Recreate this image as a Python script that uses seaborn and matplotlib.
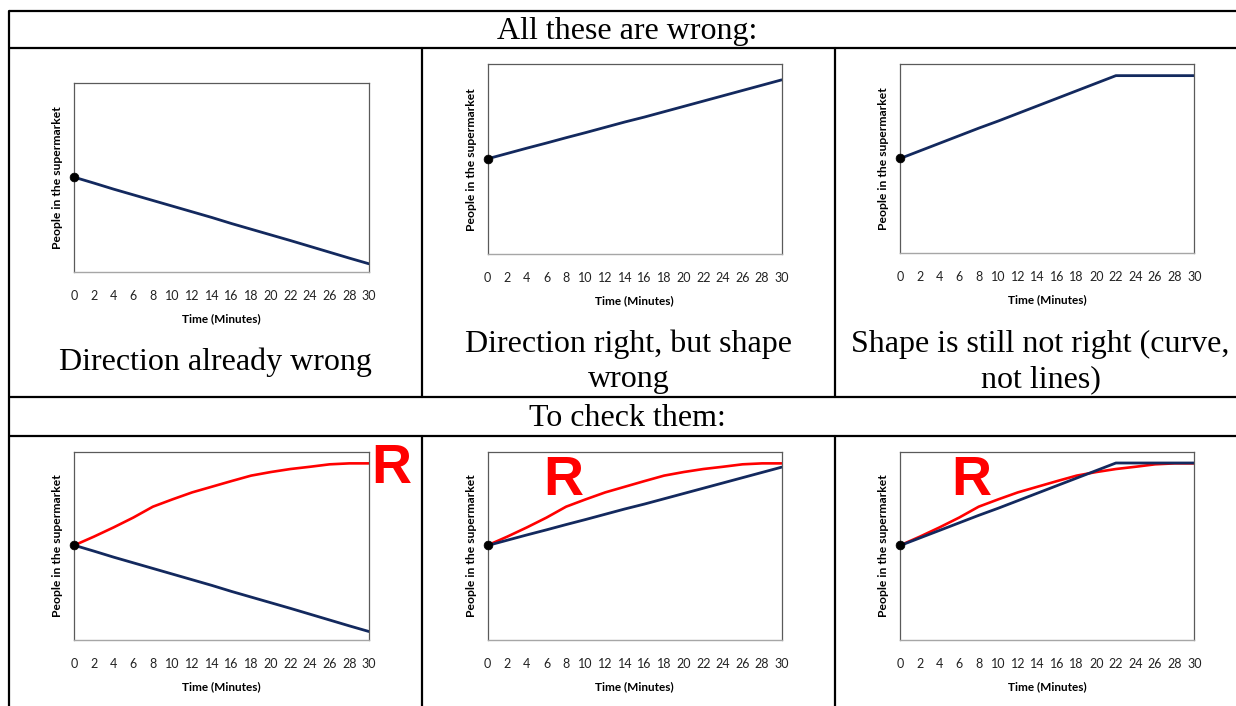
import matplotlib
matplotlib.use("Agg")
import matplotlib.pyplot as plt
import seaborn as sns
import pandas as pd

# data (minutes 0..30, every 2 minutes)
minutes = list(range(0, 31, 2))
falling = [50.3, 47.2, 44.0, 41.0, 38.0, 35.0, 32.0, 29.0, 25.8, 22.8, 19.8, 16.8, 13.7, 10.6, 7.5, 4.5]
rising = [50.2, 53.0, 55.8, 58.5, 61.3, 64.0, 66.8, 69.6, 72.2, 75.0, 77.8, 80.6, 83.4, 86.2, 89.0, 91.8]
plateau = [50.2, 54.2, 58.2, 62.2, 66.2, 70.0, 74.0, 78.0, 82.0, 86.0, 90.0, 94.0, 94.0, 94.0, 94.0, 94.0]
correct = [50.3, 54.9, 59.8, 65.0, 70.8, 74.7, 78.4, 81.4, 84.4, 87.3, 89.2, 90.8, 92.0, 93.3, 93.8, 93.8]
start_value = 50.2

header_top = "All these are wrong:"
header_bottom = "To check them:"
captions = ["Direction already wrong", "Direction right, but shape\nwrong",
            "Shape is still not right (curve,\nnot lines)"]
x_label = "Time (Minutes)"
y_label = "People in the supermarket"

df = pd.DataFrame({"minute": minutes, "falling": falling, "rising": rising,
                   "plateau": plateau, "correct": correct})

sns.set_style("white")
plt.rcParams["font.family"] = ["Lato", "DejaVu Sans"]

W, H = 1236, 706
fig = plt.figure(figsize=(W / 100, H / 100), dpi=100)

# table grid + texts drawn on a full-figure axes in pixel coords (on top)
bg = fig.add_axes([0, 0, 1, 1])
bg.set_xlim(0, W)
bg.set_ylim(H, 0)
bg.axis("off")
bg.set_zorder(10)
lw = 1.6
for y in [11, 48, 397, 436]:
    bg.plot([9, W], [y, y], color="black", lw=lw, solid_capstyle="butt")
bg.plot([9, 9], [11, H], color="black", lw=lw)
for x in [422, 835]:
    bg.plot([x, x], [48, 397], color="black", lw=lw)
    bg.plot([x, x], [436, H], color="black", lw=lw)

serif = ["Liberation Serif", "DejaVu Serif"]
bg.text(627.5, 31, header_top, fontsize=23, family=serif, color="black",
        ha="center", va="center")
bg.text(627.5, 418, header_bottom, fontsize=23, family=serif, color="black",
        ha="center", va="center")
for cx, txt in zip([215.5, 628.5, 1040.5], captions):
    bg.text(cx, 362, txt, fontsize=23, family=serif, color="black",
            ha="center", va="center", linespacing=1.28)

NAVY = "#13295e"
RED = "#ff0000"


def make_axes(l, t, r, b):
    ax = fig.add_axes([l / W, 1 - b / H, (r - l) / W, (b - t) / H])
    ax.set_xlim(0, 30)
    ax.set_ylim(0, 100)
    ax.set_xticks(minutes)
    ax.set_yticks([])
    ax.tick_params(axis="x", direction="out", length=4, width=0.8, color="#8c8c8c",
                   pad=9, labelsize=9, labelcolor="#222222")
    for side in ["left", "top", "right"]:
        ax.spines[side].set_color("#5a5a5a")
        ax.spines[side].set_linewidth(0.9)
    ax.spines["bottom"].set_color("#a6a6a6")
    ax.spines["bottom"].set_linewidth(1.0)
    return ax


def draw(ax, col, check=False):
    if check:
        sns.lineplot(data=df, x="minute", y="correct", ax=ax, color=RED, lw=1.9)
    sns.lineplot(data=df, x="minute", y=col, ax=ax, color=NAVY, lw=2.0)
    sns.scatterplot(x=[0], y=[start_value], ax=ax, color="black", s=40,
                    zorder=5, clip_on=False, edgecolor="black")
    ax.set_xlabel(x_label, fontsize=8.5, fontweight="bold", labelpad=8,
                  color="black")
    ax.set_ylabel(y_label, fontsize=8.7, fontweight="bold", labelpad=8,
                  color="black")
    ax.xaxis.label.set_visible(True)
    ax.yaxis.label.set_visible(True)


cols = ["falling", "rising", "plateau"]
top_boxes = [(74.3, 83.3, 369, 272.3), (487.7, 64.3, 781.7, 254), (900.3, 64.3, 1194.3, 253.3)]
bottom_boxes = [(74.3, 451.7, 369, 640), (487.7, 451.7, 781.7, 640), (900.3, 451.7, 1194.3, 640)]

for box, col in zip(top_boxes, cols):
    draw(make_axes(*box), col)
for box, col in zip(bottom_boxes, cols):
    draw(make_axes(*box), col, check=True)

# big red "R" marks
for cx, base in [(391.7, 483), (563, 495), (971, 495)]:
    bg.text(cx, base, "R", color=RED, fontsize=40, fontweight="bold",
            family=["Liberation Sans", "DejaVu Sans"], ha="center", va="baseline")

fig.savefig("out.png", dpi=100)
